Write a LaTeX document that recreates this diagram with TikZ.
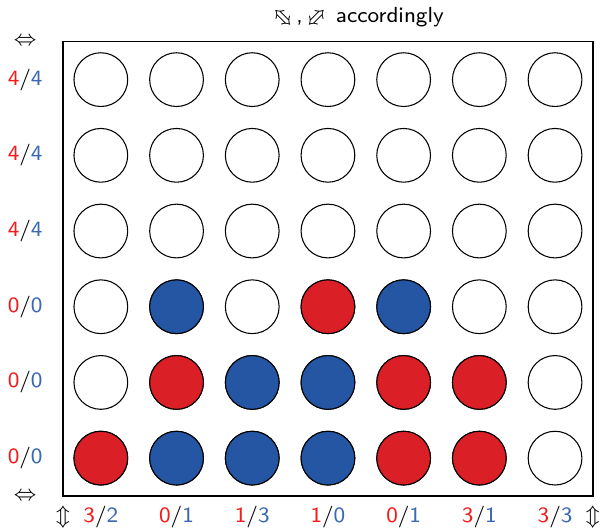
\documentclass[tikz,border=0pt]{standalone}
\usepackage{xcolor}
\usepackage{tikz}
\usepackage{amsmath}
\usepackage{amssymb}
\definecolor{discred}{HTML}{DA1F26}
\definecolor{discblue}{HTML}{2556A3}
\definecolor{labelred}{HTML}{F21C1C}
\definecolor{labelblue}{HTML}{3A68B2}
\usetikzlibrary{positioning}

\begin{document}
\begin{tikzpicture}[font=\sffamily\fontsize{8.2}{9.8}\selectfont,
    slot/.style={draw, circle, line width=0.4pt, minimum size=0.71cm, inner sep=0pt},
    count/.style={inner sep=1pt}]
    \useasboundingbox (-0.832,-0.462) rectangle (7.094,6.552);

    % board
    \node[draw, rectangle, line width=0.5pt, minimum width=7cm, minimum height=6cm, inner sep=0pt] (board) at (3.5,3) {};

    % empty slots
    \foreach \col in {1,...,7}
        \foreach \row in {1,...,6}
            \node[slot] (s-\col-\row) at (\col-0.5,\row-0.5) {};

    % red and blue discs
    \foreach \col/\row in {1/1, 5/1, 6/1, 2/2, 5/2, 6/2, 4/3}
        \node[slot, fill=discred] (r-\col-\row) at (\col-0.5,\row-0.5) {};
    \foreach \col/\row in {2/1, 3/1, 4/1, 3/2, 4/2, 2/3, 5/3}
        \node[slot, fill=discblue] (b-\col-\row) at (\col-0.5,\row-0.5) {};

    % row counts
    \foreach \row/\a/\b in {1/0/0, 2/0/0, 3/0/0, 4/4/4, 5/4/4, 6/4/4}
        \node[count] (rc-\row) at (-0.5,\row-0.5) {\textcolor{labelred}{\a}/\textcolor{labelblue}{\b}};

    % column counts
    \foreach \col/\a/\b in {1/3/2, 2/0/1, 3/1/3, 4/1/0, 5/0/1, 6/3/1, 7/3/3}
        \node[count] (cc-\col) at (\col-0.5,-0.28) {\textcolor{labelred}{\a}/\textcolor{labelblue}{\b}};

    \node (lr-top) at (-0.5,6) {$\Leftrightarrow$};
    \node (lr-bot) at (-0.5,0) {$\Leftrightarrow$};
    \node (ud-left) at (0,-0.28) {$\Updownarrow$};
    \node (ud-right) at (7,-0.28) {$\Updownarrow$};

    \node (note) at (3.89,6.31) {\rotatebox[origin=c]{-45}{$\Leftrightarrow$}\,,\,\rotatebox[origin=c]{45}{$\Leftrightarrow$}\ accordingly};
\end{tikzpicture}
\end{document}
